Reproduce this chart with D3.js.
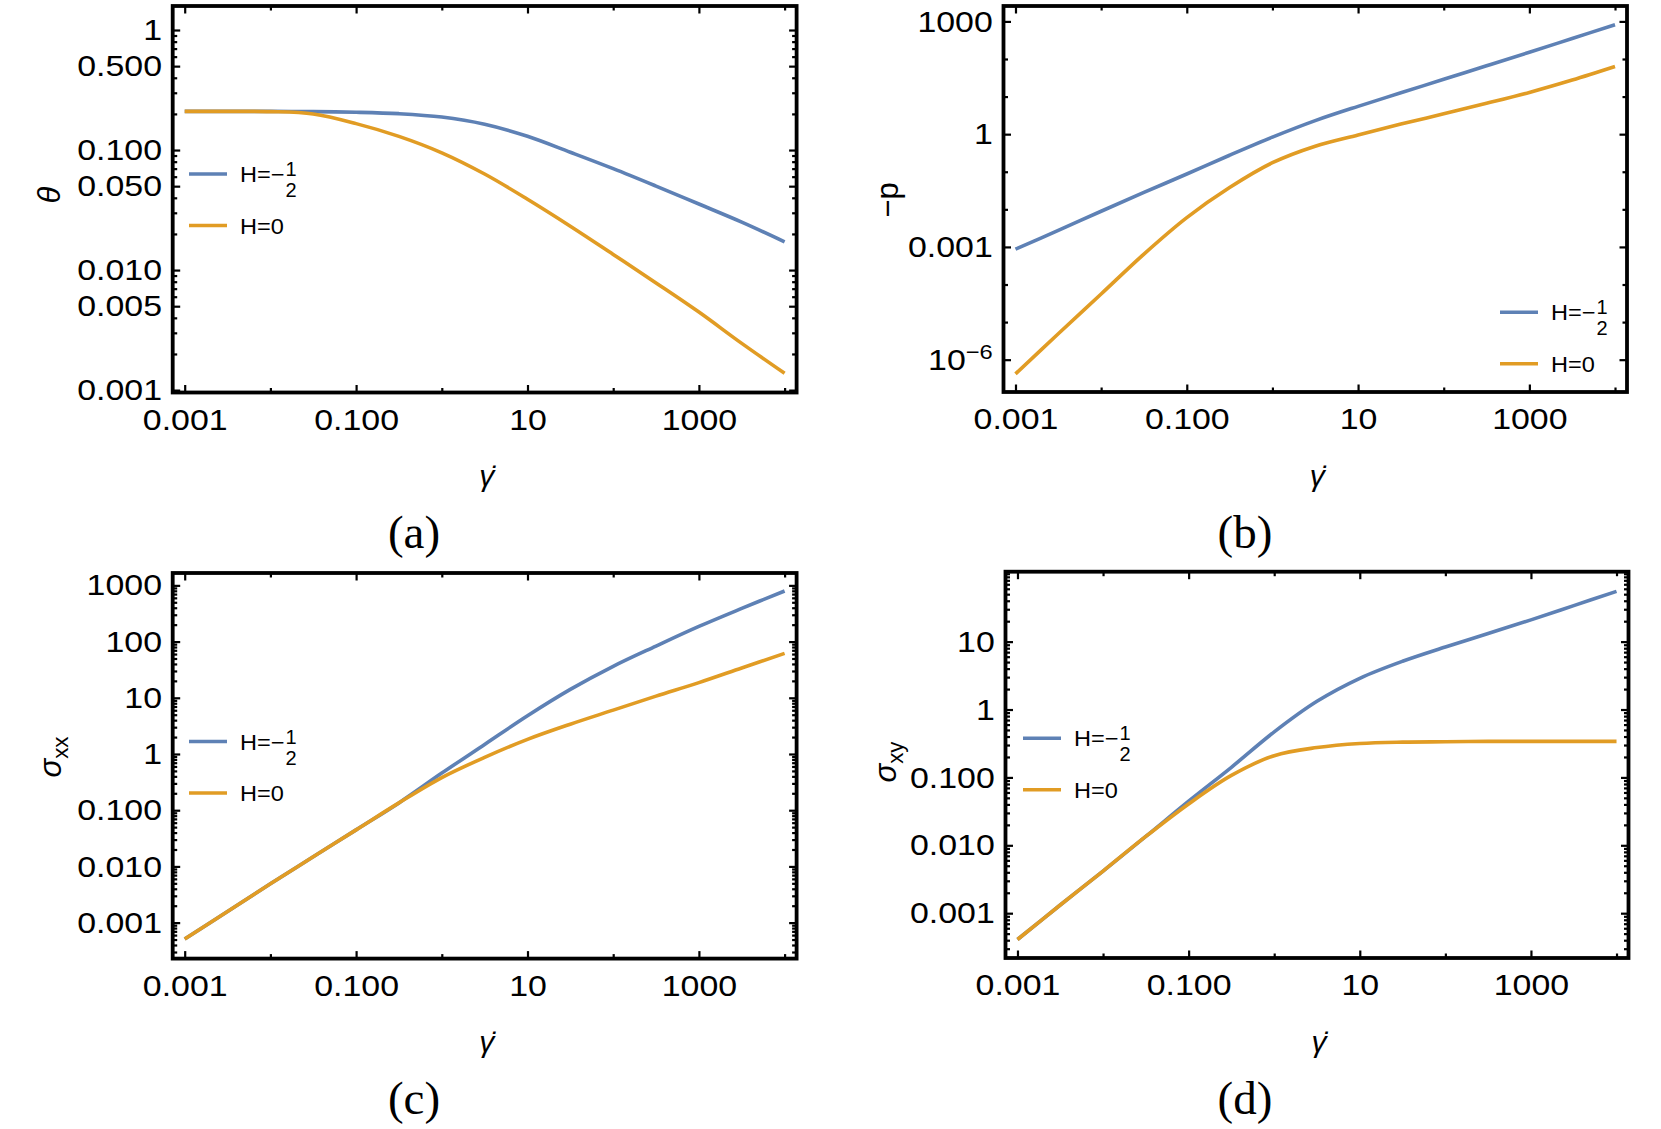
<!DOCTYPE html>
<html>
<head>
<meta charset="utf-8">
<script src="https://cdn.jsdelivr.net/npm/d3@7"></script>
<style>
  body { margin: 0; background: #fff; }
</style>
</head>
<body>
<div id="chart"></div>
<script>
// shear rate samples (x of every panel)
const gammaDot = [0.001, 0.00316, 0.01, 0.0316, 0.1, 0.316, 1, 3.16, 10, 31.6, 100, 316, 1000, 3162, 10000];

// (a) theta
const thetaHalf = [0.210, 0.210, 0.210, 0.209, 0.2065, 0.2009, 0.1884, 0.164, 0.1303, 0.0959, 0.070, 0.0501, 0.0355, 0.0251, 0.0172];
const thetaZero = [0.210, 0.210, 0.209, 0.1995, 0.166, 0.130, 0.0948, 0.0631, 0.0389, 0.0232, 0.0135, 0.00782, 0.00447, 0.00245, 0.00138];

// (b) -p
const pHalf = [8.7e-4, 2.75e-3, 8.9e-3, 0.0282, 0.087, 0.275, 0.832, 2.29, 5.5, 12.6, 28.8, 66.1, 151, 351, 813];
const pZero = [4.2e-7, 4.9e-6, 5.6e-5, 6.46e-4, 6.03e-3, 0.038, 0.174, 0.479, 0.955, 1.86, 3.47, 6.61, 12.9, 27.5, 63.1];

// (c) sigma_xx
const sxxHalf = [5.1e-4, 1.58e-3, 4.9e-3, 0.0148, 0.0447, 0.135, 0.457, 1.48, 4.79, 14.1, 36.3, 83.2, 186, 389, 794];
const sxxZero = [5.1e-4, 1.58e-3, 4.9e-3, 0.0148, 0.0447, 0.135, 0.38, 0.871, 1.82, 3.39, 6.03, 10.7, 18.6, 33.9, 61.7];

// (d) sigma_xy
const sxyHalf = [4.1e-4, 1.32e-3, 4.17e-3, 0.0135, 0.0447, 0.141, 0.468, 1.32, 2.88, 5.13, 8.32, 13.2, 20.9, 33.9, 55.0];
const sxyZero = [4.1e-4, 1.32e-3, 4.17e-3, 0.0135, 0.0407, 0.107, 0.209, 0.275, 0.316, 0.331, 0.335, 0.339, 0.339, 0.339, 0.339];

// ticks
const xTicks = [0.001, 0.1, 10, 1000];
const xTickLabels = ["0.001", "0.100", "10", "1000"];
const thetaTicks = [1, 0.5, 0.1, 0.05, 0.01, 0.005, 0.001];
const thetaTickLabels = ["1", "0.500", "0.100", "0.050", "0.010", "0.005", "0.001"];
const pTicks = [1000, 1, 0.001, 1e-6];
const pTickLabels = ["1000", "1", "0.001", "10^−6"];
const sxxTicks = [1000, 100, 10, 1, 0.1, 0.01, 0.001];
const sxxTickLabels = ["1000", "100", "10", "1", "0.100", "0.010", "0.001"];
const sxyTicks = [10, 1, 0.1, 0.01, 0.001];
const sxyTickLabels = ["10", "1", "0.100", "0.010", "0.001"];

const seriesLabels = ["H=−", "H=0"];
const colors = ["#5E81B5", "#E19C24"];

const svg = d3.select("#chart").append("svg")
  .attr("width", 1661)
  .attr("height", 1129)
  .style("font-family", "'Liberation Sans', Arial, sans-serif");

const panels = [
  { cap: "(a)", left: 172.7, right: 796.6, top: 6, bottom: 392.5, yLog: [-3.02, 0.2],
    data: [thetaHalf, thetaZero], ticks: thetaTicks, labels: thetaTickLabels, minor: "all",
    title: "θ", tx: 49, ty: 195, legend: [189, 174], capX: 414, capY: 548 },
  { cap: "(b)", left: 1003.5, right: 1627, top: 6, bottom: 392, yLog: [-6.86, 3.41],
    data: [pHalf, pZero], ticks: pTicks, labels: pTickLabels, minor: "decade",
    title: "−p", tx: 887, ty: 200, legend: [1500, 312.3], capX: 1245, capY: 548 },
  { cap: "(c)", left: 172.7, right: 796.6, top: 573, bottom: 958.6, yLog: [-3.64, 3.22],
    data: [sxxHalf, sxxZero], ticks: sxxTicks, labels: sxxTickLabels, minor: "all",
    title: "σ", sub: "xx", tx: 50, ty: 757, legend: [189, 741.5], capX: 414, capY: 1114 },
  { cap: "(d)", left: 1005.5, right: 1628.5, top: 571.7, bottom: 958, yLog: [-3.66, 2.03],
    data: [sxyHalf, sxyZero], ticks: sxyTicks, labels: sxyTickLabels, minor: "all",
    title: "σ", sub: "xy", tx: 885, ty: 762, legend: [1023, 738.3], capX: 1245, capY: 1114 }
];

function minorTicks(domLog, majors, mode) {
  const out = [];
  for (let e = Math.floor(domLog[0]) - 1; e <= Math.ceil(domLog[1]); e++) {
    const ks = mode === "all" ? d3.range(1, 10) : [1];
    ks.forEach(k => {
      const v = k * Math.pow(10, e);
      const lv = Math.log10(v);
      if (lv < domLog[0] || lv > domLog[1]) return;
      if (majors.some(m => Math.abs(Math.log10(m) - lv) < 1e-6)) return;
      out.push(v);
    });
  }
  return out;
}

const xMinor = minorTicks([-3.14, 4.14], xTicks, "decade");

panels.forEach(p => {
  const x = d3.scaleLog().domain([Math.pow(10, -3.14), Math.pow(10, 4.14)]).range([p.left, p.right]);
  const y = d3.scaleLog().domain([Math.pow(10, p.yLog[0]), Math.pow(10, p.yLog[1])]).range([p.bottom, p.top]);
  const g = svg.append("g");

  const line = d3.line()
    .x((d, i) => x(gammaDot[i]))
    .y(d => y(d))
    .curve(d3.curveCatmullRom.alpha(0.5));

  p.data.forEach((s, i) => {
    g.append("path")
      .datum(s)
      .attr("d", line)
      .attr("fill", "none")
      .attr("stroke", colors[i])
      .attr("stroke-width", 3.6);
  });

  const yMinor = minorTicks(p.yLog, p.ticks, p.minor);

  const tidy = sel => {
    sel.select(".domain").remove();
    sel.selectAll(".tick line").attr("stroke", "#000").attr("stroke-width", 2.2);
    sel.attr("font-family", null).attr("font-size", 30);
    sel.selectAll(".tick text").attr("fill", "#000");
  };

  // bottom axis
  g.append("g").attr("transform", `translate(0,${p.bottom})`)
    .call(d3.axisBottom(x).tickValues(xTicks).tickFormat((d, i) => xTickLabels[i])
      .tickSizeInner(-7.5).tickSizeOuter(0).tickPadding(16))
    .call(tidy)
    .call(s => s.selectAll(".tick text").attr("transform", "scale(1.13,1)"));
  g.append("g").attr("transform", `translate(0,${p.bottom})`)
    .call(d3.axisBottom(x).tickValues(xMinor).tickFormat("").tickSizeInner(-4.5).tickSizeOuter(0))
    .call(tidy);
  // top axis (mirror)
  g.append("g").attr("transform", `translate(0,${p.top})`)
    .call(d3.axisTop(x).tickValues(xTicks).tickFormat("").tickSizeInner(-7.5).tickSizeOuter(0))
    .call(tidy);
  g.append("g").attr("transform", `translate(0,${p.top})`)
    .call(d3.axisTop(x).tickValues(xMinor).tickFormat("").tickSizeInner(-4.5).tickSizeOuter(0))
    .call(tidy);

  // left axis
  const left = g.append("g").attr("transform", `translate(${p.left},0)`)
    .call(d3.axisLeft(y).tickValues(p.ticks).tickFormat((d, i) => p.labels[i])
      .tickSizeInner(-7.5).tickSizeOuter(0).tickPadding(9.5))
    .call(tidy);
  left.selectAll(".tick text").each(function (d, i) {
    const t = d3.select(this);
    t.attr("transform", "scale(1.13,1)");
    const lab = p.labels[i];
    if (lab.includes("^")) {
      const [base, sup] = lab.split("^");
      t.text(base);
      t.append("tspan").attr("dy", "-0.5em").attr("font-size", "0.7em").text(sup);
    }
  });
  g.append("g").attr("transform", `translate(${p.left},0)`)
    .call(d3.axisLeft(y).tickValues(yMinor).tickFormat("").tickSizeInner(-4.5).tickSizeOuter(0))
    .call(tidy);
  // right axis (mirror)
  g.append("g").attr("transform", `translate(${p.right},0)`)
    .call(d3.axisRight(y).tickValues(p.ticks).tickFormat("").tickSizeInner(-7.5).tickSizeOuter(0))
    .call(tidy);
  g.append("g").attr("transform", `translate(${p.right},0)`)
    .call(d3.axisRight(y).tickValues(yMinor).tickFormat("").tickSizeInner(-4.5).tickSizeOuter(0))
    .call(tidy);

  // frame
  g.append("rect")
    .attr("x", p.left).attr("y", p.top)
    .attr("width", p.right - p.left).attr("height", p.bottom - p.top)
    .attr("fill", "none").attr("stroke", "#000").attr("stroke-width", 3.8);

  // y title
  const yt = g.append("text")
    .attr("transform", `translate(${p.tx},${p.ty}) rotate(-90)`)
    .attr("text-anchor", "middle")
    .attr("dy", "0.35em")
    .attr("font-size", 31);
  yt.append("tspan").attr("font-style", p.title === "−p" ? "normal" : "italic").text(p.title);
  if (p.sub) yt.append("tspan").attr("dy", "0.3em").attr("font-size", "0.72em").text(p.sub);

  // x title
  g.append("text")
    .attr("x", (p.left + p.right) / 2 + 2)
    .attr("y", p.bottom + 93.5)
    .attr("text-anchor", "middle")
    .attr("font-size", 30)
    .attr("font-style", "italic")
    .text("γ\u0307");

  // caption
  g.append("text")
    .attr("x", p.capX).attr("y", p.capY)
    .attr("text-anchor", "middle")
    .attr("font-family", "'Liberation Serif', 'DejaVu Serif', serif")
    .attr("font-size", 47)
    .text(p.cap);

  // legend
  const [lx, ly] = p.legend;
  seriesLabels.forEach((lab, i) => {
    const yy = ly + i * 51.5;
    g.append("line")
      .attr("x1", lx).attr("x2", lx + 38)
      .attr("y1", yy).attr("y2", yy)
      .attr("stroke", colors[i]).attr("stroke-width", 3.6);
    g.append("text")
      .attr("transform", `translate(${lx + 51},${yy + 8}) scale(1.07,1)`)
      .attr("font-size", 22)
      .text(lab);
    if (i === 0) {
      g.append("text")
        .attr("x", lx + 102).attr("y", yy + 2)
        .attr("text-anchor", "middle").attr("font-size", 20)
        .text("1");
      g.append("text")
        .attr("x", lx + 102).attr("y", yy + 23)
        .attr("text-anchor", "middle").attr("font-size", 20)
        .text("2");
    }
  });
});
</script>
</body>
</html>
